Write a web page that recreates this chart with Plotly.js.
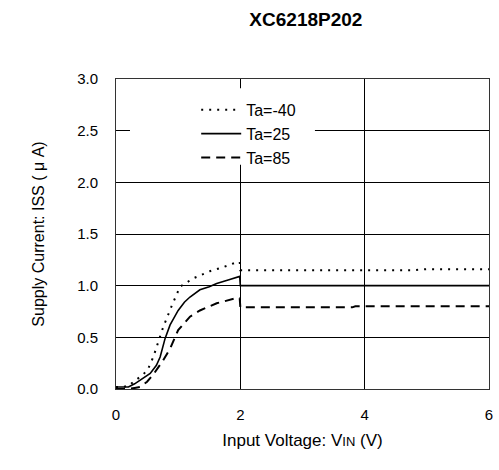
<!DOCTYPE html>
<html>
<head>
<meta charset="utf-8">
<script src="https://cdn.plot.ly/plotly-3.0.1.min.js"></script>
<style>html,body{margin:0;padding:0;background:#fff;}#chart{width:499px;height:470px;}</style>
</head>
<body>
<div id="chart"></div>
<script>
// Ta = -40
const vinM40 = [0, 0.1, 0.2, 0.28, 0.44, 0.52, 0.6, 0.68, 0.76, 0.9, 1.03, 1.24, 1.51, 1.73, 1.91, 1.99, 2.0, 3, 4, 4.8, 5, 6];
const issM40 = [0.02, 0.02, 0.03, 0.07, 0.14, 0.2, 0.31, 0.46, 0.60, 0.81, 0.99, 1.07, 1.14, 1.18, 1.22, 1.23, 1.15, 1.15, 1.15, 1.15, 1.16, 1.16];
// Ta = 25
const vin25 = [0, 0.1, 0.2, 0.3, 0.4, 0.55, 0.65, 0.71, 0.79, 0.87, 1.0, 1.1, 1.19, 1.35, 1.5, 1.62, 1.83, 1.99, 2.0, 2.5, 3, 4, 5, 6];
const iss25 = [0.02, 0.02, 0.02, 0.05, 0.09, 0.15, 0.23, 0.31, 0.49, 0.62, 0.76, 0.84, 0.89, 0.96, 0.99, 1.02, 1.06, 1.09, 1.0, 1.0, 1.0, 1.0, 1.0, 1.0];
// Ta = 85
const vin85 = [0, 0.2, 0.3, 0.39, 0.5, 0.6, 0.75, 0.87, 1.0, 1.19, 1.35, 1.62, 1.94, 1.99, 2.0, 3, 3.8, 3.85, 4, 5, 6];
const iss85 = [0.0, 0.0, 0.01, 0.02, 0.07, 0.14, 0.27, 0.39, 0.57, 0.70, 0.76, 0.83, 0.88, 0.88, 0.79, 0.79, 0.79, 0.80, 0.80, 0.80, 0.80];

const seriesNames = ["Ta=-40", "Ta=25", "Ta=85"];
const xTicks = [0, 2, 4, 6];
const yTicks = [0, 0.5, 1.0, 1.5, 2.0, 2.5, 3.0];
const yTickText = ["0.0", "0.5", "1.0", "1.5", "2.0", "2.5", "3.0"];

const font = "Liberation Sans, Arial, sans-serif";

const traces = [
  {x: vinM40, y: issM40, name: seriesNames[0], mode: "lines",
   line: {color: "#000", width: 2, dash: "2px,6px"}},
  {x: vin25, y: iss25, name: seriesNames[1], mode: "lines",
   line: {color: "#000", width: 1.6}},
  {x: vin85, y: iss85, name: seriesNames[2], mode: "lines",
   line: {color: "#000", width: 2, dash: "9px,6px"}}
];

const layout = {
  width: 499, height: 470,
  margin: {l: 116, r: 10, t: 79, b: 81},
  paper_bgcolor: "#fff", plot_bgcolor: "#fff",
  font: {family: font, size: 15, color: "#000"},
  title: {text: "<b>XC6218P202</b>", x: 0.613, xanchor: "center", y: 0.958, yanchor: "middle",
          font: {family: font, size: 19, color: "#000"}},
  showlegend: true,
  legend: {x: 0.215, y: 0.955, xanchor: "left", yanchor: "top", bgcolor: "rgba(0,0,0,0)",
           borderwidth: 0, font: {family: font, size: 16, color: "#000"},
           tracegroupgap: 0, itemwidth: 40},
  shapes: [
    {type: "rect", xref: "x", yref: "y", x0: 0.225, x1: 3.2, y0: 2.17, y1: 2.91,
     fillcolor: "#fff", line: {width: 0}, layer: "between"}
  ],
  xaxis: {range: [0, 6], tickvals: xTicks, ticktext: xTicks.map(String),
          showgrid: true, gridcolor: "#000", gridwidth: 1, zeroline: false,
          showline: true, linecolor: "#333", linewidth: 1, mirror: true,
          ticks: "", ticklen: 0, ticklabelstandoff: 12, tickfont: {size: 15},
          title: {text: "Input Voltage: V<span style='font-size:13px'>IN</span> (V)", standoff: 12, font: {size: 17}}},
  yaxis: {range: [0, 3], tickvals: yTicks, ticktext: yTickText,
          showgrid: true, gridcolor: "#000", gridwidth: 1, zeroline: false,
          showline: true, linecolor: "#333", linewidth: 1, mirror: true,
          ticks: "", ticklen: 0, ticklabelstandoff: 14, tickfont: {size: 15},
          title: {text: "Supply Current: ISS ( μ A)", standoff: 28, font: {size: 16}}}
};

Plotly.newPlot("chart", traces, layout, {displayModeBar: false, staticPlot: true});
</script>
</body>
</html>
